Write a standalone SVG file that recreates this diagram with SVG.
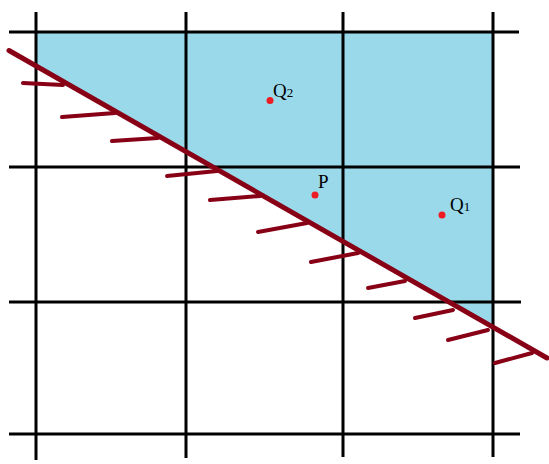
<svg xmlns="http://www.w3.org/2000/svg" width="549" height="464" viewBox="0 0 549 464">
<style>
.grid{stroke:#000;stroke-width:3;fill:none}
.hl{stroke:#880015;stroke-width:5;stroke-linecap:round;fill:none}
.ht{stroke:#880015;stroke-width:4;stroke-linecap:round;fill:none}
.pt{fill:#ed1c24}
.lb{font-family:"Liberation Serif",serif;fill:#000}
</style>
<rect width="549" height="464" fill="#fff"/>
<polygon id="region" points="36,32 493,32 493,327 36,66" fill="#99d9ea"/>
<g id="grid" class="grid">
<line x1="36" y1="12" x2="36" y2="460"/>
<line x1="186" y1="12" x2="186" y2="458"/>
<line x1="343" y1="12" x2="343" y2="457"/>
<line x1="493" y1="12" x2="493" y2="457"/>
<line x1="9" y1="32" x2="519" y2="32"/>
<line x1="9" y1="167" x2="520" y2="167"/>
<line x1="9" y1="302" x2="521" y2="302"/>
<line x1="9" y1="434" x2="520" y2="434"/>
</g>
<g id="half-plane-boundary">
<line class="hl" x1="9" y1="50.5" x2="547" y2="358"/>
<g class="ht">
<line x1="23" y1="83" x2="63" y2="85"/>
<line x1="62" y1="117" x2="115" y2="113"/>
<line x1="112" y1="141" x2="158" y2="138"/>
<line x1="167" y1="176" x2="217" y2="171"/>
<line x1="210" y1="200" x2="260" y2="196"/>
<line x1="258" y1="232" x2="307" y2="223"/>
<line x1="311" y1="262" x2="358" y2="253"/>
<line x1="368" y1="288" x2="405" y2="281"/>
<line x1="415" y1="318" x2="453" y2="310"/>
<line x1="448" y1="340" x2="488" y2="330"/>
<line x1="495" y1="363" x2="532" y2="353"/>
</g>
</g>
<g id="Q2">
<circle class="pt" cx="270" cy="100.5" r="3.5"/>
<text class="lb" x="273" y="97" font-size="19">Q<tspan font-size="13">2</tspan></text>
</g>
<g id="P">
<circle class="pt" cx="315" cy="195" r="3.5"/>
<text class="lb" x="318" y="188" font-size="19">P</text>
</g>
<g id="Q1">
<circle class="pt" cx="442" cy="215" r="3.5"/>
<text class="lb" x="450" y="211" font-size="19">Q<tspan font-size="13">1</tspan></text>
</g>
</svg>
